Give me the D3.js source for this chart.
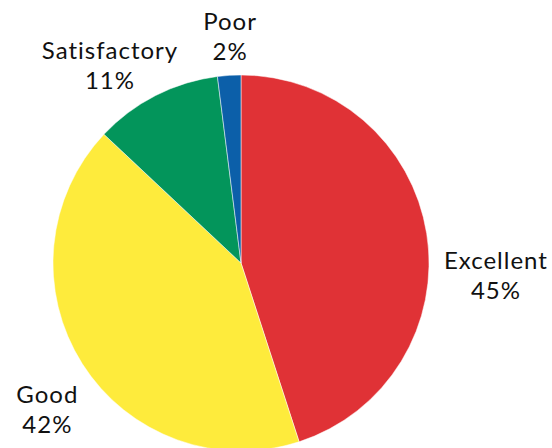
<!DOCTYPE html>
<html>
<head>
<meta charset="utf-8">
<script src="https://cdn.jsdelivr.net/npm/d3@7"></script>
<style>
  html, body { margin: 0; padding: 0; background: #fff; }
  svg { display: block; }
  .slice-label { font-family: Lato, "Open Sans", sans-serif; font-size: 24px; letter-spacing: 1px; fill: #111; }
</style>
</head>
<body>
<svg id="chart"></svg>
<script>
// chart data
const categories = ['Excellent', 'Good', 'Satisfactory', 'Poor'];
const shares = [45, 42, 11, 2];
const percentLabels = ['45%', '42%', '11%', '2%'];
const sliceColors = ['#e03236', '#feeb3c', '#03955b', '#0c5fa9'];

class PieChart {

  constructor(_config) {
    this.config = {
      parentElement: _config.parentElement,
      containerWidth: _config.containerWidth || 552,
      containerHeight: _config.containerHeight || 448,
      radius: _config.radius || 188,
      center: _config.center || [241, 263],
      lineHeight: _config.lineHeight || 30
    };
    this.initVis();
  }

  initVis() {
    let vis = this;

    vis.svg = d3.select(vis.config.parentElement)
      .attr('width', vis.config.containerWidth)
      .attr('height', vis.config.containerHeight);

    vis.chart = vis.svg.append('g')
      .attr('transform', `translate(${vis.config.center[0]},${vis.config.center[1]})`);

    vis.pie = d3.pie().sort(null).value(d => d.value);
    vis.arc = d3.arc().innerRadius(0).outerRadius(vis.config.radius);
    vis.color = d3.scaleOrdinal().domain(categories).range(sliceColors);

    // label spots, in units of the radius, relative to the centre (first line baseline)
    vis.labelSpots = [[1.356, 0.03], [-1.03, 0.745], [-0.697, -1.085], [-0.058, -1.24]];

    vis.updateVis();
  }

  updateVis() {
    let vis = this;
    vis.data = categories.map((c, i) => ({ name: c, value: shares[i], label: percentLabels[i] }));
    vis.renderVis();
  }

  renderVis() {
    let vis = this;
    const r = vis.config.radius;

    vis.chart.selectAll('.slice')
      .data(vis.pie(vis.data))
      .join('path')
        .attr('class', 'slice')
        .attr('d', vis.arc)
        .attr('fill', d => vis.color(d.data.name))
        .attr('stroke', '#fff')
        .attr('stroke-width', 0.5);

    const labels = vis.chart.selectAll('.slice-label')
      .data(vis.data)
      .join('text')
        .attr('class', 'slice-label')
        .attr('text-anchor', 'middle')
        .attr('transform', (d, i) => `translate(${vis.labelSpots[i][0] * r},${vis.labelSpots[i][1] * r})`);

    labels.append('tspan').attr('x', 0).attr('y', 0).text(d => d.name);
    labels.append('tspan').attr('x', 0).attr('y', vis.config.lineHeight).text(d => d.label);
  }
}

new PieChart({ parentElement: '#chart' });
</script>
</body>
</html>
